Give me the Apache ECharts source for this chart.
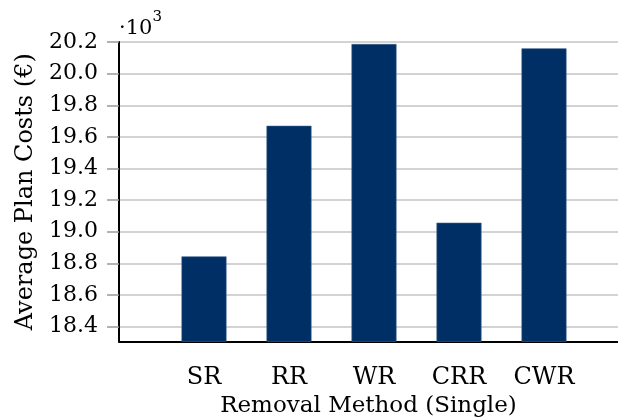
<!DOCTYPE html>
<html>
<head>
<meta charset="utf-8">
<script src="https://cdn.jsdelivr.net/npm/echarts@6/dist/echarts.min.js"></script>
<style>
  html, body { margin: 0; padding: 0; background: #fff; }
  #chart { width: 618px; height: 417px; }
</style>
</head>
<body>
<div id="chart"></div>
<script>
// data (values in thousands of euro)
const categories = ["SR", "RR", "WR", "CRR", "CWR"];
const costs = [18.844, 19.67, 20.187, 19.057, 20.16];
const yTicks = [18.4, 18.6, 18.8, 19.0, 19.2, 19.4, 19.6, 19.8, 20.0, 20.2];

const font = "DejaVu Serif";
const chart = echarts.init(document.getElementById("chart"));

// categories sit at x = 1..5 on a plain value axis, so the plot can run off the right edge
const barData = costs.map((v, i) => [i + 1, v]);

const option = {
  animation: false,
  grid: {
    left: 119, top: 42, right: 0, height: 299.5,
    containLabel: false, outerBoundsMode: "none"
  },
  xAxis: {
    type: "value",
    min: 0,
    max: 499 / 85,
    interval: 1,
    splitLine: { show: false },
    axisLine: { show: true, lineStyle: { color: "#000", width: 2 } },
    axisTick: { show: false },
    axisLabel: {
      color: "#000", fontFamily: font, fontSize: 24, margin: 24,
      showMaxLabel: false,
      formatter: v => categories[Math.round(v) - 1] || ""
    },
    name: "Removal Method (Single)",
    nameLocation: "middle",
    nameGap: 52,
    nameTextStyle: { color: "#000", fontFamily: font, fontSize: 23 }
  },
  yAxis: {
    type: "value",
    min: 18.306,
    max: 20.2,
    axisLine: { show: true, lineStyle: { color: "#000", width: 2 } },
    axisTick: {
      show: true,
      customValues: yTicks,
      length: 12,
      lineStyle: { color: "#999", width: 1.5 }
    },
    axisLabel: {
      customValues: yTicks,
      formatter: v => v.toFixed(1),
      color: "#000",
      fontFamily: font,
      fontSize: 22,
      margin: 21
    },
    splitLine: { show: true, lineStyle: { color: "#c4c4c4", width: 1.5 } },
    name: "Average Plan Costs (€)",
    nameLocation: "middle",
    nameGap: 80,
    nameTextStyle: { color: "#000", fontFamily: font, fontSize: 24 }
  },
  graphic: [{
    type: "text",
    left: 119,
    top: 10,
    style: {
      text: "{a|·10}{b|3}",
      rich: {
        a: { fontFamily: font, fontSize: 21, fill: "#000", padding: [8, 0, 0, 0] },
        b: { fontFamily: font, fontSize: 15, fill: "#000", verticalAlign: "top" }
      }
    }
  }],
  series: [{
    type: "bar",
    data: barData,
    barWidth: 45,
    clip: true,
    itemStyle: { color: "#002f65", borderColor: "#3a5f8c", borderWidth: 0.6 }
  }]
};

chart.setOption(option);
</script>
</body>
</html>
